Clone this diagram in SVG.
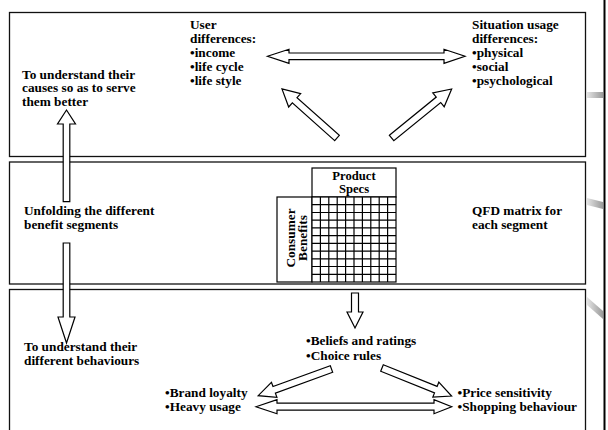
<svg xmlns="http://www.w3.org/2000/svg" width="608" height="430" viewBox="0 0 608 430">
  <defs>
    <style>
      .box { fill: none; stroke: #111; stroke-width: 1.3; }
      .arr { fill: #fff; stroke: #000; stroke-width: 1.2; stroke-linejoin: miter; }
      .grid line { stroke: #000; stroke-width: 1.2; }
      .cell { fill: #fff; stroke: #000; stroke-width: 1.2; }
      text { font-family: "Liberation Serif", "Times New Roman", serif; font-weight: bold; font-size: 12.2px; fill: #000; }
      .head { font-size: 11.6px; }
      .mid { text-anchor: middle; }
    </style>
    <linearGradient id="edge" x1="0" y1="0" x2="1" y2="0">
      <stop offset="0" stop-color="#e4e4e4"/>
      <stop offset="1" stop-color="#9a9a9a"/>
    </linearGradient>
  </defs>

  <rect width="608" height="430" fill="#fff"/>

  <!-- page edge decoration -->
  <rect x="603.5" y="0" width="2" height="430" fill="#000"/>
  <rect x="587" y="92" width="16" height="6" fill="url(#edge)"/>
  <polygon points="587,198 603,202 603,209 587,205" fill="url(#edge)"/>
  <polygon points="587,297 603,311 603,319 587,305" fill="url(#edge)"/>

  <!-- panels; text blocks are set slightly wide (scale 1.09 horizontally) -->
  <g id="panel-top">
    <rect class="box" x="9.5" y="12.5" width="576" height="144"/>
    <g id="user-differences" transform="translate(190,0) scale(1.09,1)">
      <text x="0" y="29">User</text>
      <text x="0" y="43">differences:</text>
      <text x="0" y="57">•income</text>
      <text x="0" y="71">•life cycle</text>
      <text x="0" y="85">•life style</text>
    </g>
    <g id="situation-differences" transform="translate(472,0) scale(1.09,1)">
      <text x="0" y="29">Situation usage</text>
      <text x="0" y="43">differences:</text>
      <text x="0" y="57">•physical</text>
      <text x="0" y="71">•social</text>
      <text x="0" y="85">•psychological</text>
    </g>
    <g id="causes" transform="translate(22,0) scale(1.09,1)">
      <text x="0" y="79">To understand their</text>
      <text x="0" y="92.5">causes so as to serve</text>
      <text x="0" y="106">them better</text>
    </g>
  </g>

  <g id="panel-middle">
    <rect class="box" x="9.5" y="162" width="576" height="122"/>
    <g id="unfolding" transform="translate(24,0) scale(1.09,1)">
      <text x="0" y="215">Unfolding the different</text>
      <text x="0" y="229">benefit segments</text>
    </g>
    <g id="qfd-label" transform="translate(472,0) scale(1.09,1)">
      <text x="0" y="215">QFD matrix for</text>
      <text x="0" y="229">each segment</text>
    </g>
    <g id="qfd-matrix">
      <rect class="cell" x="312" y="168" width="84" height="29"/>
      <g transform="translate(354,0) scale(1.09,1)">
        <text class="mid head" x="0" y="180">Product</text>
        <text class="mid head" x="0" y="193">Specs</text>
      </g>
      <rect class="cell" x="277" y="197" width="35" height="85"/>
      <g transform="translate(294.5,238) rotate(-90) scale(1.09,1)">
        <text class="mid" x="0" y="0">Consumer</text>
        <text class="mid" x="0" y="13">Benefits</text>
      </g>
      <rect class="cell" x="312" y="197" width="84" height="85"/>
      <g class="grid">
        <line x1="320.4" y1="197" x2="320.4" y2="282"/>
        <line x1="328.8" y1="197" x2="328.8" y2="282"/>
        <line x1="337.2" y1="197" x2="337.2" y2="282"/>
        <line x1="345.6" y1="197" x2="345.6" y2="282"/>
        <line x1="354" y1="197" x2="354" y2="282"/>
        <line x1="362.4" y1="197" x2="362.4" y2="282"/>
        <line x1="370.8" y1="197" x2="370.8" y2="282"/>
        <line x1="379.2" y1="197" x2="379.2" y2="282"/>
        <line x1="387.6" y1="197" x2="387.6" y2="282"/>
        <line x1="312" y1="204.7" x2="396" y2="204.7"/>
        <line x1="312" y1="212.5" x2="396" y2="212.5"/>
        <line x1="312" y1="220.2" x2="396" y2="220.2"/>
        <line x1="312" y1="227.9" x2="396" y2="227.9"/>
        <line x1="312" y1="235.6" x2="396" y2="235.6"/>
        <line x1="312" y1="243.4" x2="396" y2="243.4"/>
        <line x1="312" y1="251.1" x2="396" y2="251.1"/>
        <line x1="312" y1="258.8" x2="396" y2="258.8"/>
        <line x1="312" y1="266.5" x2="396" y2="266.5"/>
        <line x1="312" y1="274.3" x2="396" y2="274.3"/>
      </g>
    </g>
  </g>

  <g id="panel-bottom">
    <rect class="box" x="9.5" y="289.5" width="576" height="150"/>
    <g id="behaviours" transform="translate(24,0) scale(1.09,1)">
      <text x="0" y="351">To understand their</text>
      <text x="0" y="365">different behaviours</text>
    </g>
    <g id="beliefs" transform="translate(306,0) scale(1.09,1)">
      <text x="0" y="345">•Beliefs and ratings</text>
      <text x="0" y="360">•Choice rules</text>
    </g>
    <g id="loyalty" transform="translate(165,0) scale(1.09,1)">
      <text x="0" y="397">•Brand loyalty</text>
      <text x="0" y="411">•Heavy usage</text>
    </g>
    <g id="price" transform="translate(457.5,0) scale(1.09,1)">
      <text x="0" y="397">•Price sensitivity</text>
      <text x="0" y="411">•Shopping behaviour</text>
    </g>
  </g>

  <!-- block arrows -->
  <g id="connectors">
    <polygon class="arr" points="267.5,56.3 289,49.3 289,53 444,53 444,49.3 465,56.3 444,63.3 444,59.6 289,59.6 289,63.3"/>
    <polygon class="arr" transform="translate(337,138) rotate(-138.3)" points="0,-3.5 56.7,-3.5 56.7,-9 73.7,0 56.7,9 56.7,3.5 0,3.5"/>
    <polygon class="arr" transform="translate(391.6,138) rotate(-39.2)" points="0,-3.5 60.5,-3.5 60.5,-9 77.5,0 60.5,9 60.5,3.5 0,3.5"/>
    <polygon class="arr" points="63.2,201.7 63.2,124 57.5,124 66.5,110 75.5,124 69.8,124 69.8,201.7"/>
    <polygon class="arr" points="63.2,243 63.2,317 58,317 66.5,343 75,317 69.8,317 69.8,243"/>
    <polygon class="arr" points="351.5,293 351.5,312 347,312 355,328 363,312 358.5,312 358.5,293"/>
    <polygon class="arr" transform="translate(331.5,369) rotate(160)" points="0,-3.5 61,-3.5 61,-8 78,0 61,8 61,3.5 0,3.5"/>
    <polygon class="arr" transform="translate(382,368) rotate(21.9)" points="0,-3.5 58,-3.5 58,-8 75,0 58,8 58,3.5 0,3.5"/>
    <polygon class="arr" points="256,406.7 277,399.7 277,403.2 434,403.2 434,399.7 451.7,406.7 434,413.7 434,410.2 277,410.2 277,413.7"/>
  </g>
</svg>
